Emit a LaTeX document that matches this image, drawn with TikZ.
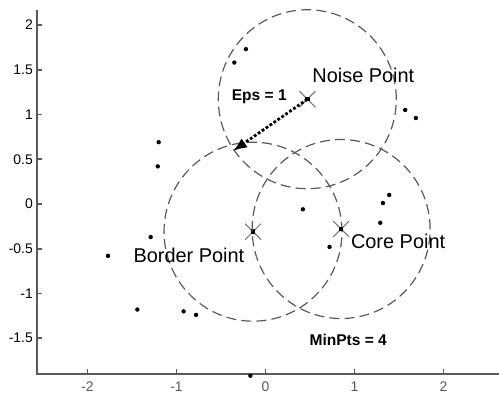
\documentclass[tikz,border=0pt]{standalone}
\usepackage{fontspec}
\setmainfont{Liberation Sans}
\usetikzlibrary{arrows.meta, calc}

\tikzset{
  epsring/.style={line width=0.6pt, black!65, dash pattern=on 5pt off 2.6pt},
  datapt/.style={fill=black},
  centermark/.style={line width=0.5pt, black!55},
  axisline/.style={line width=0.8pt, black!65},
  bigtxt/.style={font=\fontsize{10}{12}\selectfont, inner sep=0pt},
  smalltxt/.style={font=\bfseries\fontsize{7.8}{9}\selectfont, inner sep=0pt},
  ticktxt/.style={font=\fontsize{7}{8}\selectfont, inner sep=0pt}
}

\begin{document}
\begin{tikzpicture}[x=44.5bp, y=44.75bp]
  \useasboundingbox (-2.983,-2.145) rectangle (2.624,2.279);
  % axes
  \draw[axisline] (-2.567,2.168) -- (-2.567,-1.899) -- (2.624,-1.899);
  \foreach \t in {-2,-1,0,1,2}
    \draw[axisline] (\t,-1.899) -- (\t,-1.84) node[ticktxt, below=6.3bp] (xl\t) {\t};
  \foreach \t in {-1.5,-1,-0.5,0,0.5,1,1.5,2}
    \draw[axisline] (-2.567,\t) -- (-2.51,\t);
  \foreach \t in {-1.5,-1,-0.5,0,0.5,1,1.5,2}
    \node[ticktxt, anchor=east] (yl\t) at (-2.61,\t) {\t};

  % data
  \foreach \p in {(-0.35,1.58),(-0.22,1.73),(1.57,1.05),(1.69,0.96),(-1.2,0.69),(-1.21,0.42),
                  (-1.29,-0.37),(-1.77,-0.58),(-1.44,-1.18),(-0.92,-1.2),(-0.78,-1.24),
                  (0.42,-0.06),(1.32,0.01),(1.29,-0.21),(1.39,0.1),(0.72,-0.48),(-0.17,-1.92)}
    \fill[datapt] \p circle (1.1bp);

  \coordinate (noise) at (0.47,1.17);
  \coordinate (border) at (-0.14,-0.31);
  \coordinate (core) at (0.85,-0.28);
  \coordinate (epsend) at (-0.365,0.592);

  \foreach \c in {noise,border,core} {
    \draw[epsring] (\c) circle[x radius=1, y radius=1];
    \draw[centermark] ($(\c)+(-4bp,-4bp)$) -- ($(\c)+(4bp,4bp)$);
    \draw[centermark] ($(\c)+(-4bp,4bp)$) -- ($(\c)+(4bp,-4bp)$);
    \fill[black] ($(\c)+(-1.1bp,-1.1bp)$) rectangle ($(\c)+(1.1bp,1.1bp)$);
  }

  \draw[line width=1.4pt, densely dotted, -{Latex[length=7bp, width=5.5bp]}] (noise) -- (epsend);

  \node[bigtxt] (noiselbl) at (1.10,1.44) {Noise Point};
  \node[bigtxt] (borderlbl) at (-0.86,-0.57) {Border Point};
  \node[bigtxt] (corelbl) at (1.49,-0.42) {Core Point};
  \node[smalltxt] (epslbl) at (-0.07,1.20) {Eps = 1};
  \node[smalltxt] (minlbl) at (0.93,-1.52) {MinPts = 4};
\end{tikzpicture}
\end{document}
